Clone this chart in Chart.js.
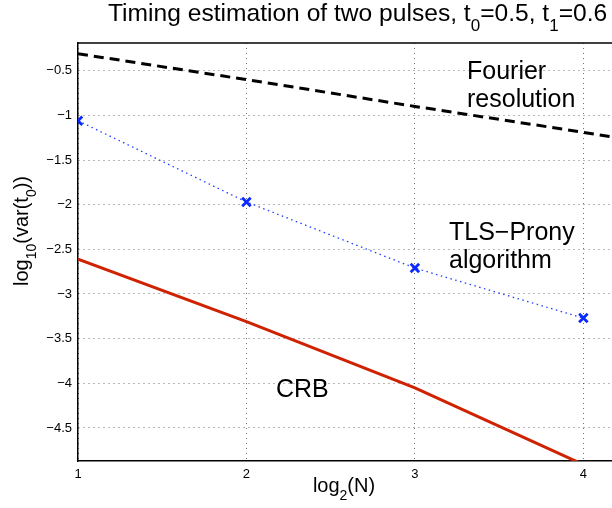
<!DOCTYPE html>
<html>
<head>
<meta charset="utf-8">
<script src="https://cdn.jsdelivr.net/npm/chart.js@4.4.1/dist/chart.umd.min.js"></script>
<style>
  body { margin: 0; background: #fff; }
  #wrap { width: 612px; height: 508px; }
</style>
</head>
<body>
<div id="wrap"><canvas id="grafico" width="612" height="508"></canvas></div>
<script>
// datos
var log2N = [1, 2, 3, 4];
var fourierN = [1, 2, 3, 4, 5];
var fourierRes = [-0.31, -0.60, -0.90, -1.19, -1.49];
var tlsProny = [-1.06, -1.97, -2.71, -3.27];
var crb = [-2.61, -3.31, -4.05, -4.91];
var xTicks = [1, 2, 3, 4];
var yTicks = [-0.5, -1, -1.5, -2, -2.5, -3, -3.5, -4, -4.5];

var FONT = "'Liberation Sans', Arial, Helvetica, sans-serif";

function pares(xs, ys) {
    return xs.map(function (x, i) { return { x: x, y: ys[i] }; });
}

// texto con subindices: partes = [[texto, esSub], ...]
function textoRico(ctx, partes, x, y, size, align) {
    var subSize = Math.round(size * 0.7);
    var ancho = 0;
    partes.forEach(function (p) {
        ctx.font = (p[1] ? subSize : size) + "px " + FONT;
        ancho += ctx.measureText(p[0]).width;
    });
    var cx = align === "center" ? x - ancho / 2 : x;
    ctx.textAlign = "left";
    ctx.textBaseline = "alphabetic";
    partes.forEach(function (p) {
        ctx.font = (p[1] ? subSize : size) + "px " + FONT;
        ctx.fillText(p[0], cx, p[1] ? y + size * 0.4 : y);
        cx += ctx.measureText(p[0]).width;
    });
}

var textos = {
    id: "textos",
    afterDraw: function (chart) {
        var ctx = chart.ctx;
        var area = chart.chartArea;
        ctx.save();
        // marco superior
        ctx.strokeStyle = "#000";
        ctx.lineWidth = 1.5;
        ctx.beginPath();
        ctx.moveTo(area.left, area.top);
        ctx.lineTo(area.right, area.top);
        ctx.stroke();

        ctx.fillStyle = "#000";
        textoRico(ctx, [["Timing estimation of two pulses, t", 0], ["0", 1], ["=0.5, t", 0], ["1", 1], ["=0.6", 0]], 108, 21, 24.6, "left");
        textoRico(ctx, [["log", 0], ["2", 1], ["(N)", 0]], 344, 492, 20, "center");

        ctx.save();
        ctx.translate(28, 231);
        ctx.rotate(-Math.PI / 2);
        textoRico(ctx, [["log", 0], ["10", 1], ["(var(t", 0], ["0", 1], ["))", 0]], 0, 0, 20, "center");
        ctx.restore();

        ctx.font = "25px " + FONT;
        ctx.textAlign = "left";
        ctx.fillText("Fourier", 467, 79);
        ctx.fillText("resolution", 467, 107);
        ctx.fillText("TLS\u2212Prony", 449, 240);
        ctx.fillText("algorithm", 449, 268);
        ctx.fillText("CRB", 276, 397);
        ctx.restore();
    }
};

var ctx = document.getElementById("grafico").getContext("2d");
var myChart = new Chart(ctx, {
    type: "line",
    data: {
        datasets: [
            {
                label: "Fourier resolution",
                data: pares(fourierN, fourierRes),
                borderColor: "#000",
                borderWidth: 3,
                borderDash: [10, 6],
                pointRadius: 0
            },
            {
                label: "TLS-Prony",
                data: pares(log2N, tlsProny),
                borderColor: "#1f3cff",
                borderWidth: 1.3,
                borderDash: [1.5, 3.5],
                pointStyle: "crossRot",
                pointRadius: 6,
                pointBorderWidth: 2.8,
                pointBorderColor: "#0a2aff",
                pointBackgroundColor: "#0a2aff"
            },
            {
                label: "CRB",
                data: pares(log2N, crb),
                borderColor: "#cf2200",
                borderWidth: 3,
                pointRadius: 0
            }
        ]
    },
    options: {
        responsive: false,
        animation: false,
        layout: { autoPadding: false, padding: { top: 43, left: 0, right: 0, bottom: 0 } },
        plugins: { legend: { display: false }, title: { display: false }, tooltip: { enabled: false } },
        elements: { line: { tension: 0 } },
        scales: {
            x: {
                type: "linear",
                min: 1,
                max: 4.17,
                afterBuildTicks: function (scale) {
                    scale.ticks = xTicks.map(function (v) { return { value: v }; });
                },
                afterFit: function (scale) {
                    scale.height = 47;
                    scale.paddingLeft = 0;
                    scale.paddingRight = 0;
                },
                grid: { color: "rgba(0,0,0,0.55)", drawTicks: false, lineWidth: 1 },
                border: { color: "#000", width: 1.5, dash: [1, 4] },
                ticks: {
                    padding: 6,
                    color: "#000",
                    font: { family: FONT, size: 13 },
                    maxRotation: 0
                }
            },
            y: {
                min: -4.87,
                max: -0.19,
                afterBuildTicks: function (scale) {
                    scale.ticks = yTicks.map(function (v) { return { value: v }; });
                },
                afterFit: function (scale) {
                    scale.width = 78;
                    scale.paddingTop = 0;
                    scale.paddingBottom = 0;
                },
                grid: { color: "rgba(0,0,0,0.55)", drawTicks: false, lineWidth: 1 },
                border: { color: "#000", width: 1.5, dash: [1, 4] },
                ticks: {
                    padding: 6,
                    color: "#000",
                    font: { family: FONT, size: 13 },
                    callback: function (value) {
                        return String(value).replace("-", "\u2212");
                    }
                }
            }
        }
    },
    plugins: [textos]
});
</script>
</body>
</html>
